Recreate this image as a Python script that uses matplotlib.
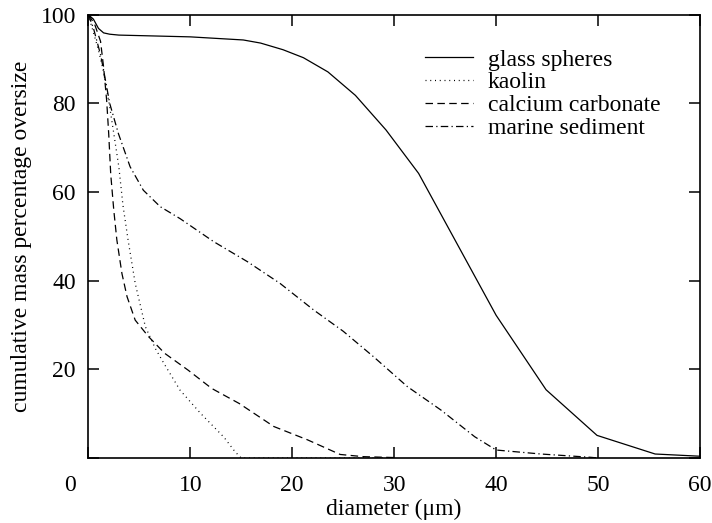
import matplotlib
matplotlib.use("Agg")
import matplotlib.pyplot as plt
from matplotlib.transforms import ScaledTranslation

# values (diameter in um, cumulative mass % oversize)
glass_x = [0, 0.5, 1.0, 1.5, 2.1, 3.0, 10, 15.2, 16.9, 19.1, 21.1, 23.5, 26.2, 29.2, 32.4, 40.0, 44.9, 49.9, 55.6, 60]
glass_y = [100, 99, 96.9, 95.9, 95.6, 95.4, 95.0, 94.3, 93.6, 92.1, 90.3, 87.1, 81.8, 74.0, 64.2, 32.2, 15.4, 5.1, 0.9, 0.4]

kaolin_x = [0, 0.5, 1.0, 1.5, 2.1, 2.5, 3.0, 3.4, 3.9, 4.6, 5.6, 6.6, 7.4, 9.0, 11.0, 13.3, 14.4, 15.0, 30]
kaolin_y = [100, 96, 92, 87.1, 79.2, 73.2, 65.6, 57.0, 49.2, 39.4, 29.6, 24.6, 21.4, 15.3, 10.1, 4.7, 1.4, 0, 0]

calcium_x = [0, 0.6, 1.2, 1.5, 1.8, 2.0, 2.2, 2.5, 2.8, 3.3, 3.8, 4.6, 5.9, 7.5, 9.8, 12.1, 14.8, 18.2, 21.5, 24.7, 27.0, 30]
calcium_y = [100, 98, 94, 88.2, 80.7, 73.2, 64, 55.9, 49.2, 41.6, 36.4, 31.1, 27.4, 23.6, 19.8, 15.7, 12.3, 7.1, 4.1, 0.8, 0.3, 0.1]

marine_x = [0, 0.5, 1.2, 1.5, 2.1, 2.95, 4.1, 5.4, 7.05, 9.0, 12.3, 15.6, 18.8, 22.1, 25.0, 28.0, 31.3, 34.6, 37.9, 40.0, 44.4, 49.3, 50]
marine_y = [100, 97, 91, 87.5, 80.0, 73.2, 65.7, 60.4, 56.7, 54.0, 48.8, 44.3, 39.4, 33.4, 28.6, 22.8, 16.1, 10.8, 4.8, 1.8, 0.9, 0.15, 0]

labels = ["glass spheres", "kaolin", "calcium carbonate", "marine sediment"]

plt.rcParams["font.family"] = ["Liberation Serif", "DejaVu Serif"]

fig = plt.figure(figsize=(7.12, 5.23), dpi=100)
ax = fig.add_axes([88.3 / 712, (523 - 458) / 523, 611.7 / 712, 443.3 / 523])

lw = 0.9
ax.plot(glass_x, glass_y, color="black", lw=lw, label=labels[0])
ax.plot(kaolin_x, kaolin_y, color="black", lw=lw, dashes=(0.8, 3.0), label=labels[1])
ax.plot(calcium_x, calcium_y, color="black", lw=lw, dashes=(6, 3.5), label=labels[2])
ax.plot(marine_x, marine_y, color="black", lw=lw, dashes=(6, 2.6, 1, 2.6), label=labels[3])

ax.set_xlim(0, 60)
ax.set_ylim(0, 100)
ax.set_xticks(range(0, 61, 10))
ax.set_yticks(range(0, 101, 20))
ax.set_yticklabels([""] + [str(v) for v in range(20, 101, 20)])
ax.tick_params(direction="in", length=8, width=1.1, top=True, right=True,
               labelsize=17, pad=12)
ax.tick_params(axis="y", pad=9)
for s in ax.spines.values():
    s.set_linewidth(1.2)

# shared origin label sits left of the corner
lab0 = ax.get_xticklabels()[0]
lab0.set_transform(lab0.get_transform() + ScaledTranslation(-0.18, 0, fig.dpi_scale_trans))

ax.set_xlabel("diameter (μm)", fontsize=17, labelpad=2)
ax.set_ylabel("cumulative mass percentage oversize", fontsize=17, labelpad=6)

ax.legend(loc="upper left", bbox_to_anchor=((425 - 88.3) / 611.7, (458 - 49) / 443.3),
          frameon=False, fontsize=17, handlelength=2.05, handletextpad=0.62,
          labelspacing=0.06, borderpad=0, borderaxespad=0)

fig.savefig("out.png", dpi=100)
